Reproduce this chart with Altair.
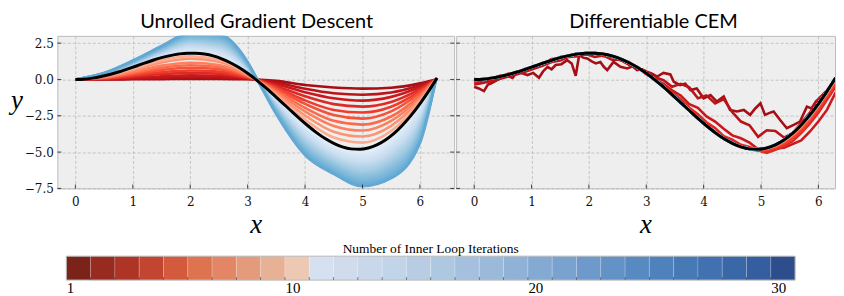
import altair as alt
import pandas as pd

# ---------------- data ----------------
X_FINE = [0.0, 0.15, 0.3, 0.45, 0.6, 0.75, 0.9, 1.05, 1.2, 1.35, 1.5, 1.65, 1.8, 1.95, 2.1,
          2.25, 2.4, 2.55, 2.7, 2.85, 3.0, 3.15, 3.3, 3.45, 3.6, 3.75, 3.9, 4.05, 4.2, 4.35,
          4.5, 4.65, 4.8, 4.95, 5.1, 5.25, 5.4, 5.55, 5.7, 5.85, 6.0, 6.15, 6.3]
TARGET = [0.00, 0.02, 0.09, 0.20, 0.34, 0.51, 0.71, 0.91, 1.12, 1.32, 1.50, 1.64, 1.75, 1.81, 1.81,
          1.75, 1.62, 1.42, 1.15, 0.82, 0.42, -0.03, -0.52, -1.05, -1.59, -2.14, -2.68, -3.19, -3.66, -4.07,
          -4.40, -4.64, -4.78, -4.81, -4.72, -4.51, -4.17, -3.72, -3.14, -2.46, -1.68, -0.82, 0.11]

X_GD = [0.0, 0.5, 1.0, 1.5, 2.0, 2.5, 3.0, 3.14, 3.5, 4.0, 4.5, 5.0, 5.5, 6.0, 6.28]
GD_CURVES = [
    [0, 0.00, 0.01, 0.02, 0.04, 0.04, 0.01, 0, -0.10, -0.38, -0.55, -0.63, -0.57, -0.27, 0],
    [0, 0.01, 0.05, 0.11, 0.15, 0.13, 0.04, 0, -0.22, -0.64, -0.95, -1.05, -0.90, -0.40, 0],
    [0, 0.03, 0.12, 0.22, 0.28, 0.25, 0.07, 0, -0.33, -0.88, -1.30, -1.46, -1.20, -0.52, 0],
    [0, 0.05, 0.20, 0.37, 0.45, 0.40, 0.11, 0, -0.45, -1.16, -1.70, -1.87, -1.55, -0.67, 0],
    [0, 0.07, 0.28, 0.50, 0.62, 0.54, 0.15, 0, -0.57, -1.44, -2.10, -2.28, -1.88, -0.81, 0],
    [0, 0.10, 0.37, 0.66, 0.80, 0.70, 0.19, 0, -0.67, -1.68, -2.45, -2.70, -2.20, -0.94, 0],
    [0, 0.13, 0.45, 0.81, 0.98, 0.86, 0.24, 0, -0.79, -1.96, -2.85, -3.11, -2.55, -1.10, 0],
    [0, 0.15, 0.53, 0.95, 1.15, 1.00, 0.28, 0, -0.89, -2.20, -3.20, -3.52, -2.85, -1.23, 0],
    [0, 0.19, 0.64, 1.16, 1.42, 1.22, 0.34, 0, -1.00, -2.48, -3.60, -3.93, -3.20, -1.38, 0],
    [0, 0.21, 0.73, 1.32, 1.60, 1.36, 0.38, 0, -1.12, -2.76, -4.00, -4.35, -3.55, -1.53, 0],
    [0, 0.25, 0.87, 1.56, 1.90, 1.58, 0.45, 0.00, -1.30, -3.15, -4.55, -4.95, -4.05, -1.78, 0],
    [0, 0.26, 0.89, 1.60, 1.97, 1.66, 0.49, 0.01, -1.36, -3.26, -4.65, -5.08, -4.19, -1.92, 0],
    [0, 0.27, 0.92, 1.64, 2.04, 1.74, 0.53, 0.02, -1.42, -3.37, -4.76, -5.20, -4.34, -2.06, 0],
    [0, 0.28, 0.94, 1.68, 2.11, 1.82, 0.57, 0.03, -1.47, -3.47, -4.86, -5.33, -4.48, -2.19, 0],
    [0, 0.29, 0.96, 1.72, 2.17, 1.90, 0.61, 0.04, -1.53, -3.58, -4.96, -5.46, -4.63, -2.33, 0],
    [0, 0.30, 0.98, 1.75, 2.24, 1.98, 0.65, 0.05, -1.59, -3.69, -5.06, -5.58, -4.77, -2.47, 0],
    [0, 0.31, 1.01, 1.79, 2.31, 2.06, 0.69, 0.06, -1.65, -3.80, -5.17, -5.71, -4.92, -2.61, 0],
    [0, 0.32, 1.03, 1.83, 2.38, 2.14, 0.73, 0.07, -1.71, -3.91, -5.27, -5.83, -5.06, -2.75, 0],
    [0, 0.33, 1.05, 1.87, 2.45, 2.22, 0.77, 0.08, -1.76, -4.01, -5.37, -5.96, -5.21, -2.88, 0],
    [0, 0.34, 1.07, 1.91, 2.52, 2.30, 0.81, 0.09, -1.82, -4.12, -5.47, -6.09, -5.35, -3.02, 0],
    [0, 0.36, 1.10, 1.95, 2.58, 2.38, 0.85, 0.11, -1.88, -4.23, -5.58, -6.21, -5.50, -3.16, 0],
    [0, 0.37, 1.12, 1.99, 2.65, 2.46, 0.88, 0.12, -1.94, -4.34, -5.68, -6.34, -5.64, -3.30, 0],
    [0, 0.38, 1.14, 2.03, 2.72, 2.54, 0.92, 0.13, -2.00, -4.44, -5.78, -6.47, -5.79, -3.43, 0],
    [0, 0.39, 1.16, 2.07, 2.79, 2.62, 0.96, 0.14, -2.05, -4.55, -5.88, -6.59, -5.93, -3.57, 0],
    [0, 0.40, 1.19, 2.10, 2.86, 2.70, 1.00, 0.15, -2.11, -4.66, -5.99, -6.72, -6.08, -3.71, 0],
    [0, 0.41, 1.21, 2.14, 2.93, 2.78, 1.04, 0.16, -2.17, -4.77, -6.09, -6.84, -6.22, -3.85, 0],
    [0, 0.42, 1.23, 2.18, 2.99, 2.86, 1.08, 0.17, -2.23, -4.88, -6.19, -6.97, -6.37, -3.99, 0],
    [0, 0.43, 1.25, 2.22, 3.06, 2.94, 1.12, 0.18, -2.28, -4.98, -6.29, -7.10, -6.51, -4.12, 0],
    [0, 0.44, 1.28, 2.26, 3.13, 3.02, 1.16, 0.19, -2.34, -5.09, -6.40, -7.22, -6.66, -4.26, 0],
    [0, 0.45, 1.30, 2.30, 3.20, 3.10, 1.20, 0.20, -2.40, -5.20, -6.50, -7.35, -6.80, -4.40, 0],
]

CEM_ITER1_X = [0.00, 0.08, 0.17, 0.24, 0.29, 0.40, 0.50, 0.58, 0.67, 0.75, 0.85, 0.93, 1.03, 1.13, 1.20,
               1.28, 1.35, 1.42, 1.52, 1.62, 1.70, 1.77, 1.83, 1.90, 1.97, 2.05, 2.12, 2.20, 2.26, 2.32,
               2.43, 2.55, 2.67, 2.76, 2.84, 2.93, 3.01, 3.10, 3.19, 3.30, 3.42, 3.48, 3.59, 3.68, 3.77,
               3.88, 4.00, 4.12, 4.23, 4.35, 4.46, 4.58, 4.70, 4.81, 4.90, 4.99, 5.07, 5.15, 5.22, 5.33,
               5.45, 5.57, 5.68, 5.80, 5.88, 5.96, 6.03, 6.14, 6.23, 6.29]
CEM_ITER1_Y = [-0.50, -0.62, -0.80, -0.35, -0.28, -0.05, 0.15, 0.25, 0.10, 0.53, 0.40, 0.30, 0.45, 0.12, 0.55,
               0.87, 0.70, 0.99, 1.05, 1.33, 1.10, 0.25, 1.67, 1.50, 1.44, 1.25, 1.10, 1.20, 0.87, 0.64,
               1.21, 0.87, 0.76, 0.90, 0.64, 0.70, 0.53, 0.40, 0.20, 0.45, 0.34, -0.16, -0.39, -0.30, -0.73,
               -0.62, -1.30, -1.07, -1.53, -1.18, -2.10, -2.20, -2.10, -2.44, -2.00, -1.64, -2.44, -2.30, -2.21, -2.78,
               -3.36, -3.13, -2.90, -1.87, -1.99, -1.50, -1.30, -1.07, -0.62, -0.16]

# iterations 2..10 of the CEM panel, on X_FINE
CEM_CURVES = [
    [-0.35, -0.25, -0.10, 0.05, 0.20, 0.35, 0.55, 0.75, 0.95, 1.20, 1.30, 1.55, 1.60, 1.75, 1.55,
     1.65, 1.35, 1.35, 1.00, 0.80, 0.45, 0.15, -0.05, -0.50, -0.30, -0.55, -1.30, -1.10, -1.65, -1.35,
     -2.25, -2.90, -3.15, -3.95, -3.50, -3.55, -4.00, -3.70, -3.00, -2.30, -1.35, -0.75, 0.00],
    [-0.25, -0.05, 0.00, 0.25, 0.30, 0.55, 0.60, 0.95, 1.05, 1.40, 1.45, 1.60, 1.80, 1.70, 1.80,
     1.60, 1.65, 1.30, 1.20, 0.75, 0.50, 0.00, -0.30, -0.75, -1.10, -1.70, -1.95, -2.55, -2.90, -3.40,
     -3.85, -4.05, -4.35, -4.80, -4.95, -4.75, -4.70, -4.45, -4.20, -3.60, -2.90, -2.10, -0.90],
    [-0.20, 0.05, 0.05, 0.15, 0.40, 0.45, 0.75, 0.85, 1.15, 1.25, 1.55, 1.60, 1.80, 1.75, 1.85,
     1.70, 1.55, 1.45, 1.10, 0.85, 0.35, 0.05, -0.40, -0.90, -1.35, -1.95, -2.40, -2.95, -3.35, -3.90,
     -4.15, -4.50, -4.65, -4.90, -5.05, -4.85, -4.60, -4.25, -3.70, -3.05, -2.30, -1.40, -0.50],
    [-0.10, 0.00, 0.12, 0.18, 0.36, 0.48, 0.73, 0.88, 1.15, 1.28, 1.52, 1.62, 1.78, 1.78, 1.84,
     1.72, 1.63, 1.38, 1.17, 0.78, 0.44, -0.06, -0.48, -1.08, -1.55, -2.10, -2.62, -3.15, -3.60, -4.00,
     -4.35, -4.62, -4.80, -4.90, -4.88, -4.70, -4.45, -4.05, -3.55, -2.85, -2.05, -1.15, -0.30],
    [-0.05, 0.05, 0.08, 0.22, 0.32, 0.53, 0.69, 0.93, 1.10, 1.34, 1.48, 1.66, 1.73, 1.83, 1.79,
     1.77, 1.60, 1.44, 1.13, 0.84, 0.40, 0.00, -0.50, -1.02, -1.60, -2.11, -2.70, -3.16, -3.68, -4.05,
     -4.42, -4.62, -4.80, -4.85, -4.80, -4.62, -4.32, -3.90, -3.35, -2.70, -1.90, -1.02, -0.10],
    [0.02, 0.00, 0.11, 0.18, 0.36, 0.49, 0.73, 0.89, 1.14, 1.30, 1.52, 1.62, 1.77, 1.79, 1.83,
     1.73, 1.64, 1.40, 1.17, 0.80, 0.44, -0.05, -0.50, -1.07, -1.57, -2.16, -2.66, -3.21, -3.64, -4.09,
     -4.38, -4.66, -4.77, -4.86, -4.77, -4.60, -4.28, -3.85, -3.30, -2.62, -1.85, -0.98, -0.05],
    [0.00, 0.03, 0.08, 0.21, 0.33, 0.52, 0.70, 0.92, 1.11, 1.33, 1.49, 1.65, 1.74, 1.82, 1.80,
     1.76, 1.61, 1.43, 1.14, 0.83, 0.41, -0.02, -0.53, -1.04, -1.60, -2.13, -2.69, -3.18, -3.67, -4.06,
     -4.41, -4.63, -4.79, -4.83, -4.75, -4.56, -4.24, -3.80, -3.24, -2.56, -1.78, -0.92, 0.02],
    [0.01, 0.02, 0.10, 0.19, 0.35, 0.50, 0.72, 0.90, 1.13, 1.31, 1.51, 1.63, 1.76, 1.80, 1.82,
     1.74, 1.63, 1.41, 1.16, 0.81, 0.43, -0.04, -0.51, -1.06, -1.58, -2.15, -2.67, -3.20, -3.65, -4.08,
     -4.39, -4.65, -4.78, -4.82, -4.74, -4.54, -4.21, -3.77, -3.20, -2.52, -1.74, -0.88, 0.05],
    [0.00, 0.02, 0.09, 0.20, 0.34, 0.51, 0.71, 0.91, 1.12, 1.32, 1.50, 1.64, 1.75, 1.81, 1.81,
     1.75, 1.62, 1.42, 1.15, 0.82, 0.42, -0.03, -0.52, -1.05, -1.59, -2.14, -2.68, -3.19, -3.66, -4.07,
     -4.40, -4.64, -4.78, -4.81, -4.73, -4.53, -4.20, -3.75, -3.18, -2.50, -1.72, -0.86, 0.07],
]

ITERATIONS = list(range(1, 31))
LINE_COLORS = ["#a50f15", "#b91419", "#cb181d", "#dd2a25", "#ef3b2c", "#f5523a", "#fb6a4a", "#fc8060",
               "#fc9474", "#fcab8f", "#e3eef8", "#dfebf7", "#dae8f6", "#d6e6f4", "#d1e2f3", "#cde0f1",
               "#c8ddf0", "#c3daee", "#bad6eb", "#b2d2e8", "#abcfe6", "#a3cce3", "#9ac8e0", "#91c3de",
               "#89bedc", "#82bbdb", "#7ab6d9", "#72b2d8", "#6aaed6", "#62a8d3"]
BAR_COLORS = ["#7b2318", "#972b20", "#ae3426", "#c24532", "#d35a3d", "#de7350", "#e28666", "#e39b7c",
              "#e6b195", "#edc9b4", "#d5e0f0", "#d0dcec", "#c8d8ea", "#c2d4e8", "#b8cde4", "#afc8e2",
              "#a5c0de", "#9bbada", "#8fb2d6", "#84aad3", "#79a2cf", "#6d9acb", "#6292c6", "#578ac1",
              "#4f82bc", "#4779b5", "#4171b0", "#3967a8", "#345ea0", "#2e4d8c"]
X_TICKS = [0, 1, 2, 3, 4, 5, 6]
Y_TICKS = [-7.5, -5.0, -2.5, 0.0, 2.5]
BAR_LABELS = [1, 10, 20, 30]
TITLES = ["Unrolled Gradient Descent", "Differentiable CEM"]
BAR_TITLE = "Number of Inner Loop Iterations"

# ---------------- tables ----------------
gd_rows = []
for it, ys in zip(ITERATIONS, GD_CURVES):
    for x, y in zip(X_GD, ys):
        gd_rows.append({"iter": it, "x": x, "y": y})
gd_df = pd.DataFrame(gd_rows)

cem_rows = [{"iter": 1, "x": x, "y": y} for x, y in zip(CEM_ITER1_X, CEM_ITER1_Y)]
for it, ys in zip(range(2, 11), CEM_CURVES):
    for x, y in zip(X_FINE, ys):
        cem_rows.append({"iter": it, "x": x, "y": y})
for it in range(11, 31):
    for x, y in zip(X_FINE, TARGET):
        cem_rows.append({"iter": it, "x": x, "y": y})
cem_df = pd.DataFrame(cem_rows)

target_df = pd.DataFrame({"x": X_FINE, "y": TARGET})
xt_df = pd.DataFrame({"v": X_TICKS})
yt_df = pd.DataFrame({"v": Y_TICKS})

H = 153
GRID = dict(grid=True, gridColor="#b2b2b2", gridDash=[3, 2], gridWidth=0.7)
TICKFONT = dict(labelFont="DejaVu Serif", labelFontSize=12, labelColor="#111111")


def panel(df, title, width, xmax, first, interp, title_dx):
    xs = alt.Scale(domain=[-0.314, xmax], nice=False, zero=False)
    ys = alt.Scale(domain=[-7.5, 3.0], nice=False, zero=False)
    xa = alt.Axis(values=X_TICKS, format="d", labelPadding=8, ticks=False, domain=False,
                  title="x", titleFont="Liberation Serif", titleFontStyle="italic",
                  titleFontWeight="normal", titleFontSize=27, titleColor="black",
                  titleBaseline="alphabetic", titleY=44, **TICKFONT, **GRID)
    if first:
        ya = alt.Axis(values=Y_TICKS, format=".1f", labelPadding=4, ticks=False, domain=False,
                      title="y", titleAngle=0, titleAlign="center", titleBaseline="alphabetic",
                      titleX=-41, titleY=73, titleFont="Liberation Serif", titleFontStyle="italic",
                      titleFontWeight="normal", titleFontSize=27, titleColor="black",
                      **TICKFONT, **GRID)
    else:
        ya = alt.Axis(values=Y_TICKS, labels=False, ticks=False, domain=False, title=None, **GRID)

    lines = alt.Chart(df).mark_line(clip=True, strokeWidth=2.6, interpolate=interp).encode(
        x=alt.X("x:Q", scale=xs, axis=xa),
        y=alt.Y("y:Q", scale=ys, axis=ya),
        color=alt.Color("iter:O", scale=alt.Scale(domain=ITERATIONS, range=LINE_COLORS), legend=None),
        detail="iter:O",
    )
    black = alt.Chart(target_df).mark_line(clip=True, color="black", strokeWidth=3,
                                           interpolate="monotone").encode(
        x=alt.X("x:Q", scale=xs, axis=xa), y=alt.Y("y:Q", scale=ys, axis=ya))
    lt = alt.Chart(yt_df).mark_tick(orient="horizontal", size=4, thickness=1, color="black").encode(
        y=alt.Y("v:Q", scale=ys, axis=ya), x=alt.value(2))
    bt = alt.Chart(xt_df).mark_tick(orient="vertical", size=4, thickness=1, color="black").encode(
        x=alt.X("v:Q", scale=xs, axis=xa), y=alt.value(H - 2))
    layers = [lines, black, lt, bt]
    if first:
        rt = alt.Chart(yt_df).mark_tick(orient="horizontal", size=4, thickness=1, color="black").encode(
            y=alt.Y("v:Q", scale=ys, axis=ya), x=alt.value(width - 2))
        layers.append(rt)
    return alt.layer(*layers).properties(
        width=width, height=H,
        title=alt.TitleParams(title, font="Lato", fontSize=20, fontWeight="normal", color="black",
                              anchor="middle", baseline="alphabetic", offset=-12, dx=title_dx),
    )


left = panel(gd_df, TITLES[0], 398, 6.597, True, "monotone", 1)
right = panel(cem_df, TITLES[1], 380, 6.29, False, "linear", 8)
top = alt.hconcat(left, right, spacing=0)

# ---------------- colour bar ----------------
bar_df = pd.DataFrame({"bin": ITERATIONS})
frame_df = pd.DataFrame({"lo": [ITERATIONS[0]], "hi": [ITERATIONS[-1] + 1]})
bnd_df = pd.DataFrame({"b": ITERATIONS[1:]})
bs = alt.Scale(domain=[0.631, 31], nice=False, zero=False)
ba = alt.Axis(values=BAR_LABELS, format="d", labelAlign="left", labelBaseline="alphabetic",
              labelPadding=12, labelFont="Liberation Serif", labelFontSize=15, labelColor="black",
              ticks=False, domain=False, grid=False, title=None, labelFlush=False)
rects = alt.Chart(bar_df).mark_rect(stroke="white", strokeOpacity=0.3, strokeWidth=0.6).transform_calculate(
    end="datum.bin + 1").encode(
    x=alt.X("bin:Q", scale=bs, axis=ba), x2="end:Q",
    y=alt.value(0), y2=alt.value(24),
    color=alt.Color("bin:O", scale=alt.Scale(domain=ITERATIONS, range=BAR_COLORS), legend=None),
)
frame = alt.Chart(frame_df).mark_rect(fillOpacity=0, stroke="#b8b8b8", strokeWidth=1).encode(
    x=alt.X("lo:Q", scale=bs, axis=ba), x2="hi:Q", y=alt.value(0), y2=alt.value(24))
mticks = alt.Chart(bnd_df).mark_tick(orient="vertical", size=3, thickness=0.8, color="#333333").encode(
    x=alt.X("b:Q", scale=bs, axis=ba), y=alt.value(22.5))
cbar = alt.layer(rects, frame, mticks).properties(
    width=740, height=24,
    title=alt.TitleParams(BAR_TITLE, font="Liberation Serif", fontSize=13.5, fontWeight="normal",
                          color="black", anchor="middle", baseline="alphabetic", offset=-10.5, dx=4.5),
    view=alt.ViewBackground(fill="transparent", stroke="transparent"),
)

chart = alt.vconcat(top, cbar, spacing=3).resolve_scale(color="independent").properties(
    padding={"left": 1.5, "top": 2.5, "right": 0, "bottom": 0},
    background="white",
).configure_view(fill="#eeeeee", stroke="#bcbcbc", strokeWidth=1)

chart.save("out.html", embed_options={"renderer": "svg", "actions": False})
